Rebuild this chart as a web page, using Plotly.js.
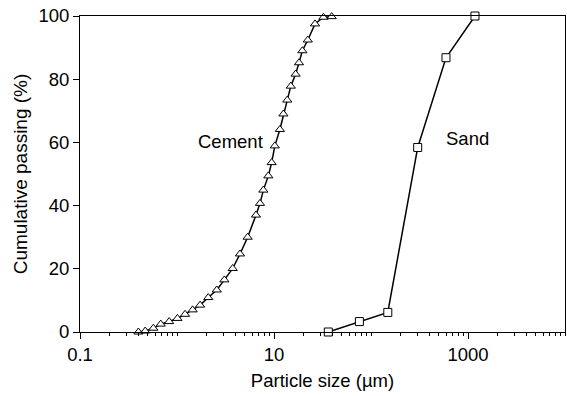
<!DOCTYPE html>
<html>
<head>
<meta charset="utf-8">
<script src="https://cdn.plot.ly/plotly-3.0.1.min.js"></script>
<style>html,body{margin:0;padding:0;background:#fff;}#chart{width:567px;height:396px;}</style>
</head>
<body>
<div id="chart"></div>
<script>
// Cement particle size distribution (µm, % passing)
const cementSize = [0.40, 0.47, 0.57, 0.68, 0.83, 1.01, 1.21, 1.45, 1.73, 2.10, 2.57, 3.08, 3.75, 4.46, 5.35, 6.52, 7.17, 7.77, 8.74, 9.46, 10.2, 11.5, 12.5, 13.7, 14.9, 16.7, 18.1, 19.6, 22.3, 26.5, 32.3, 39.3];
const cementPass = [0.0, 0.3, 1.2, 2.5, 3.3, 4.3, 5.6, 7.0, 8.5, 10.9, 13.3, 16.5, 20.1, 24.7, 30.0, 37.0, 40.7, 44.9, 49.4, 53.6, 58.9, 64.1, 69.0, 73.4, 77.8, 81.6, 85.2, 89.0, 92.4, 97.5, 99.6, 99.8];
// Sand particle size distribution
const sandSize = [36.3, 75.9, 149, 303, 593, 1180];
const sandPass = [0.0, 3.3, 6.2, 58.4, 86.8, 100];
// Axis labels
const xTickVals = [0.1, 10, 1000];
const xTickText = ['0.1', '10', '1000'];
const yTickVals = [0, 20, 40, 60, 80, 100];
const seriesLabels = ['Cement', 'Sand'];
const labelX = [3.52, 980];
const labelY = [60.3, 61.3];

const minorVals = [];
for (let e = -1; e < 4; e++) {
  for (let d = 1; d <= 9; d++) minorVals.push(d * Math.pow(10, e));
}
minorVals.push(10000);

const font = {family: 'Liberation Sans, Arial, sans-serif', size: 18.5, color: '#000'};
const yTitleFont = {family: 'Liberation Sans, Arial, sans-serif', size: 19, color: '#000'};

const traces = [
  {x: cementSize, y: cementPass, mode: 'lines+markers', type: 'scatter',
   line: {color: '#000', width: 1.5},
   marker: {symbol: 'triangle-up', size: 8, color: '#fff', line: {color: '#000', width: 1}},
   name: seriesLabels[0], cliponaxis: false},
  {x: sandSize, y: sandPass, mode: 'lines+markers', type: 'scatter',
   line: {color: '#000', width: 1.5},
   marker: {symbol: 'square', size: 8, color: '#fff', line: {color: '#000', width: 1}},
   name: seriesLabels[1], cliponaxis: false}
];

const layout = {
  width: 567, height: 396,
  margin: {l: 80, r: 2, t: 16, b: 64},
  paper_bgcolor: '#fff', plot_bgcolor: '#fff',
  showlegend: false,
  font: font,
  xaxis: {
    type: 'log', range: [-1, 4],
    tickmode: 'array', tickvals: xTickVals, ticktext: xTickText,
    ticks: 'outside', ticklen: 6, tickwidth: 1, tickcolor: '#000',
    minor: {tickmode: 'array', tickvals: minorVals, ticks: 'outside', ticklen: 3, tickwidth: 1, tickcolor: '#000', showgrid: false},
    showline: true, linecolor: '#000', linewidth: 1, mirror: true,
    showgrid: false, zeroline: false,
    tickfont: font,
    title: {text: 'Particle size (µm)', font: font, standoff: 9}
  },
  yaxis: {
    range: [0, 100],
    tickmode: 'array', tickvals: yTickVals,
    ticks: 'outside', ticklen: 6, tickwidth: 1, tickcolor: '#000',
    showline: true, linecolor: '#000', linewidth: 1, mirror: true,
    showgrid: false, zeroline: false,
    tickfont: font,
    title: {text: 'Cumulative passing (%)', font: yTitleFont, standoff: 5}
  },
  annotations: seriesLabels.map((t, i) => ({
    x: Math.log10(labelX[i]), y: labelY[i], xref: 'x', yref: 'y',
    text: t, showarrow: false, font: font
  }))
};

Plotly.newPlot('chart', traces, layout, {displayModeBar: false, staticPlot: true});
</script>
</body>
</html>
